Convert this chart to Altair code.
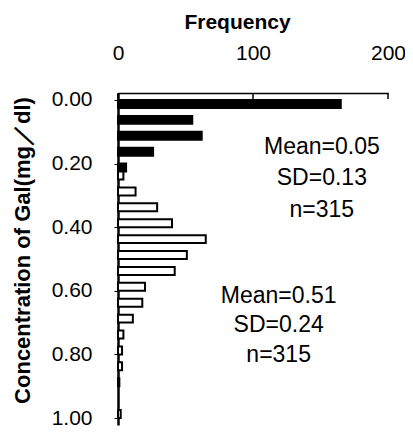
import altair as alt
import pandas as pd

# bin starts (mg/dl), bin width 0.05
bins = [0.00, 0.05, 0.10, 0.15, 0.20, 0.25, 0.30, 0.35, 0.40, 0.45, 0.50,
        0.55, 0.60, 0.65, 0.70, 0.75, 0.80, 0.85, 0.90, 0.95]
black_counts = [165, 55, 62, 26, 6, 0, 0, 0, 0, 0, 0,
                0, 0, 0, 0, 0, 0, 0, 0, 0]
white_counts = [0, 0, 0, 0, 4, 13, 29, 40, 65, 51, 42,
                20, 18, 11, 4, 3, 3, 1, 0, 2]

x_ticks = [0, 100, 200]
y_ticks = [0.0, 0.2, 0.4, 0.6, 0.8, 1.0]

ann_text = ["Mean=0.05", "SD=0.13", "n=315", "Mean=0.51", "SD=0.24", "n=315"]
ann_x = [151, 151, 151, 119, 119, 119]
ann_y = [0.148, 0.245, 0.346, 0.616, 0.708, 0.802]

rows = []
for b, c in zip(bins, black_counts):
    if c > 0:
        rows.append({"bin": b, "count": c, "series": "low", "off": 0.0})
for b, c in zip(bins, white_counts):
    if c > 0:
        rows.append({"bin": b, "count": c, "series": "high", "off": 0.025})
df = pd.DataFrame(rows)

FONT = "Liberation Sans"

xs = alt.Scale(domain=[0, 200], nice=False, zero=False)
ys = alt.Scale(domain=[-0.022, 1.022], reverse=True, nice=False, zero=False)

bars = alt.Chart(df).transform_calculate(
    lo="datum.bin + datum.off", hi="datum.bin + datum.off + 0.025"
).mark_rect(stroke="black", strokeWidth=2).encode(
    x=alt.X("count:Q", scale=xs, axis=alt.Axis(
        orient="top", values=x_ticks, title="Frequency", ticks=False, tickSize=0,
        labelPadding=30, labelFontSize=21, labelFont=FONT, labelColor="black",
        titleFont=FONT, titleFontSize=21, titleFontWeight="bold", titleColor="black",
        titleX=119, titleY=-71, titleBaseline="middle", titleAlign="center",
        domainColor="black", domainWidth=1.5, grid=False, labelFlush=False)),
    x2=alt.datum(0),
    y=alt.Y("lo:Q", scale=ys, axis=alt.Axis(
        orient="left", values=y_ticks, format=".2f",
        title="Concentration of Gal(mg／dl)", tickSize=4, tickColor="black",
        labelPadding=22, labelFontSize=21, labelFont=FONT, labelColor="black",
        titleFont=FONT, titleFontSize=22, titleFontWeight="bold", titleColor="black",
        titleAngle=270, titleX=-96, titleY=157, titleBaseline="middle",
        titleAlign="center", domainColor="black", domainWidth=2.5, grid=False)),
    y2="hi:Q",
    fill=alt.Fill("series:N", scale=alt.Scale(domain=["low", "high"],
                                              range=["black", "white"]), legend=None),
)

tickdf = pd.DataFrame({"v": x_ticks})
ticks = alt.Chart(tickdf).mark_rule(color="black", strokeWidth=1.5).encode(
    x=alt.X("v:Q", scale=xs), y=alt.value(0), y2=alt.value(6))

anndf = pd.DataFrame({"t": ann_text, "x": ann_x, "y": ann_y})
ann = alt.Chart(anndf).mark_text(font=FONT, fontSize=23, color="black",
                                 align="center", baseline="middle").encode(
    x=alt.X("x:Q", scale=xs), y=alt.Y("y:Q", scale=ys), text="t:N")

chart = alt.layer(bars, ticks, ann).properties(
    width=270, height=332, autosize="none",
    padding={"left": 110, "top": 85, "right": 17, "bottom": 8},
    background="white",
).configure_view(strokeWidth=0)

chart.save("out.html", embed_options={"renderer": "svg", "actions": False})
